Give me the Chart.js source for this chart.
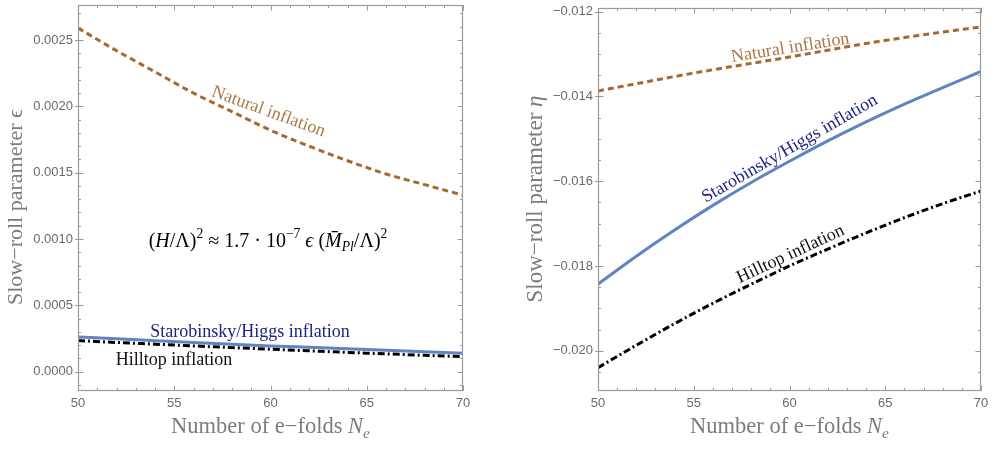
<!DOCTYPE html>
<html><head><meta charset="utf-8">
<script src="https://cdn.jsdelivr.net/npm/chart.js@4/dist/chart.umd.min.js"></script>
<style>
html,body{margin:0;padding:0;background:#fff;}
#wrap{position:relative;width:995px;height:460px;overflow:hidden;background:#fff;}
.c{position:absolute;top:0;height:460px;}
</style></head><body>
<div id="wrap">
<div class="c" style="left:0;width:497px"><canvas id="cl"></canvas></div>
<div class="c" style="left:497px;width:498px"><canvas id="cr"></canvas></div>
</div>
<script>
// ---- data ----
const efolds = [50, 52, 54, 56, 58, 60, 62, 64, 66, 68, 70];
const epsNatural = [0.00259, 0.00242, 0.00226, 0.00210, 0.00196, 0.00182, 0.00170, 0.00159, 0.00149, 0.00141, 0.00133];
const epsStarobinsky = [0.000262, 0.000247, 0.000233, 0.000219, 0.000206, 0.000194, 0.000183, 0.000172, 0.000161, 0.000150, 0.000139];
const epsHilltop = [0.000234, 0.000220, 0.000207, 0.000194, 0.000181, 0.000169, 0.000157, 0.000145, 0.000134, 0.000123, 0.000113];
const etaNatural = [-0.01387, -0.01370, -0.01353, -0.01337, -0.01322, -0.01307, -0.01291, -0.01275, -0.01261, -0.01248, -0.01236];
const etaStarobinsky = [-0.01843, -0.01777, -0.01715, -0.01657, -0.01603, -0.01553, -0.01505, -0.01460, -0.01418, -0.01379, -0.01341];
const etaHilltop = [-0.02040, -0.01987, -0.01936, -0.01888, -0.01843, -0.01800, -0.01760, -0.01722, -0.01686, -0.01653, -0.01623];

const xTicks = [50, 55, 60, 65, 70];
const xTickLabels = ["50", "55", "60", "65", "70"];
const epsTicks = [0, 0.0005, 0.0010, 0.0015, 0.0020, 0.0025];
const epsTickLabels = ["0.0000", "0.0005", "0.0010", "0.0015", "0.0020", "0.0025"];
const etaTicks = [-0.020, -0.018, -0.016, -0.014, -0.012];
const etaTickLabels = ["\u22120.020", "\u22120.018", "\u22120.016", "\u22120.014", "\u22120.012"];

// ---- styles ----
const C_NAT = '#a7692f', C_NAT_TXT = '#a8784a';
const C_STA = '#5f85c0', C_STA_TXT = '#1f2385';
const C_HIL = '#000000', C_HIL_TXT = '#111111';
const FRAME = '#9c9c9c', TICKTXT = '#6a6a6a', TITLE = '#7c7c7c';
const SERIF = '"Liberation Serif", "Times New Roman", serif';
const SANS = '"Liberation Sans", Arial, sans-serif';

function pts(ys){ return efolds.map((x,i)=>({x:x, y:ys[i]})); }

function ds(label, ys, color, dash, width){
  return {label, data: pts(ys), borderColor: color, borderWidth: width, borderDash: dash,
    borderCapStyle:'butt', pointRadius:0, fill:false, cubicInterpolationMode:'monotone'};
}

// rich text: segments {t, it, sup, sub}
function richWidth(ctx, segs, size){
  let w=0;
  for(const s of segs){
    const sz = (s.sup||s.sub) ? size*0.68 : size;
    ctx.font = (s.it?'italic ':'') + sz + 'px ' + SERIF;
    w += ctx.measureText(s.t).width;
  }
  return w;
}
function drawRich(ctx, segs, size, cx, cy, color, angle){
  ctx.save();
  ctx.translate(cx, cy);
  ctx.rotate(angle||0);
  ctx.fillStyle = color;
  ctx.textBaseline = 'alphabetic';
  ctx.textAlign = 'left';
  const w = richWidth(ctx, segs, size);
  let x = -w/2;
  const base = size*0.33;
  for(const s of segs){
    const sz = (s.sup||s.sub) ? size*0.68 : size;
    ctx.font = (s.it?'italic ':'') + sz + 'px ' + SERIF;
    let dy = 0;
    if(s.sup) dy = -size*0.42;
    if(s.sub) dy = size*0.22;
    ctx.fillText(s.t, x, base+dy);
    x += ctx.measureText(s.t).width;
  }
  ctx.restore();
}

const framePlugin = {
  id:'frameTicks',
  afterDatasetsDraw(chart, args, opts){
    const {ctx, chartArea:a, scales:{x, y}} = chart;
    ctx.save();
    ctx.strokeStyle = FRAME;
    ctx.lineWidth = 1;
    const drawX = (v, len) => {
      const px = Math.round(x.getPixelForValue(v))+0.5;
      ctx.beginPath();
      ctx.moveTo(px, a.bottom); ctx.lineTo(px, a.bottom-len);
      ctx.moveTo(px, a.top); ctx.lineTo(px, a.top+len);
      ctx.stroke();
    };
    const drawY = (v, len) => {
      const py = Math.round(y.getPixelForValue(v))+0.5;
      ctx.beginPath();
      ctx.moveTo(a.left, py); ctx.lineTo(a.left+len, py);
      ctx.moveTo(a.right, py); ctx.lineTo(a.right-len, py);
      ctx.stroke();
    };
    for(let v=x.min; v<=x.max+1e-9; v+=opts.xMinor) drawX(v, 3);
    for(const v of opts.xMajor) drawX(v, 5.5);
    const y0 = Math.ceil(y.min/opts.yMinor)*opts.yMinor;
    for(let k=0; y0+k*opts.yMinor<=y.max; k++) drawY(y0+k*opts.yMinor, 3);
    for(const v of opts.yMajor) drawY(v, 5.5);
    for(const v of opts.yMajor){
      const py = Math.round(y.getPixelForValue(v))+0.5;
      ctx.beginPath(); ctx.moveTo(a.left-3, py); ctx.lineTo(a.left, py); ctx.stroke();
    }
    ctx.lineWidth = 1.2;
    ctx.strokeRect(a.left+0.5, a.top+0.5, a.right-a.left-1, a.bottom-a.top-1);
    ctx.restore();
  },
  afterDraw(chart, args, opts){
    const {ctx, chartArea:a, scales:{x, y}} = chart;
    for(const an of opts.notes){
      drawRich(ctx, an.segs, an.size, x.getPixelForValue(an.x), y.getPixelForValue(an.y), an.color, an.angle*Math.PI/180);
    }
    const xt = [{t:'Number of e\u2212folds '},{t:'N',it:true},{t:'e',it:true,sub:true}];
    drawRich(ctx, xt, 22.5, (a.left+a.right)/2, 426, TITLE, 0);
    drawRich(ctx, opts.yTitle, opts.yTitleSize, opts.yTitleX, opts.yTitleY, TITLE, -Math.PI/2);
  }
};

function makeChart(id, cfg){
  return new Chart(document.getElementById(id), {
    type:'line',
    data:{datasets: cfg.datasets},
    options:{
      animation:false, responsive:true, maintainAspectRatio:false,
      layout:{padding:cfg.padding},
      plugins:{legend:{display:false}, tooltip:{enabled:false}, frameTicks: cfg.frame},
      scales:{
        x:{type:'linear', min:50, max:70, grid:{display:false, drawTicks:false}, border:{display:false},
          afterBuildTicks(s){ s.ticks = xTicks.map(v=>({value:v})); },
          afterFit(s){ s.height = cfg.xH; s.paddingLeft=0; s.paddingRight=0; },
          ticks:{autoSkip:false, maxRotation:0, padding:5, color:TICKTXT, font:{family:SANS, size:13},
            callback:(v,i)=>xTickLabels[i]}},
        y:{type:'linear', min:cfg.yMin, max:cfg.yMax, grid:{display:false, drawTicks:false}, border:{display:false},
          afterBuildTicks(s){ s.ticks = cfg.yTicks.map(v=>({value:v})); },
          afterFit(s){ s.width = cfg.yW; s.paddingTop=0; s.paddingBottom=0; },
          ticks:{autoSkip:false, padding:5, color:TICKTXT, font:{family:SANS, size:13},
            callback:(v,i)=>cfg.yLabels[i]}}
      }
    },
    plugins:[framePlugin]
  });
}

const txt = (s)=>[{t:s}];

makeChart('cl', {
  datasets:[
    ds('Hilltop inflation', epsHilltop, C_HIL, [7,3,2,3], 3),
    ds('Starobinsky/Higgs inflation', epsStarobinsky, C_STA, [], 3),
    ds('Natural inflation', epsNatural, C_NAT, [6,4], 3)
  ],
  padding:{left:0, top:5, right:34, bottom:0},
  xH:69, yW:78, yMin:-0.000146, yMax:0.002764,
  yTicks:epsTicks, yLabels:epsTickLabels,
  frame:{xMajor:xTicks, xMinor:1, yMajor:epsTicks, yMinor:0.0001,
    yTitle:[{t:'Slow\u2212roll parameter '},{t:'\u03f5'}], yTitleX:15, yTitleY:207, yTitleSize:22,
    notes:[
      {segs:txt('Natural inflation'), size:18, x:59.92, y:0.001968, angle:20, color:C_NAT_TXT},
      {segs:txt('Starobinsky/Higgs inflation'), size:18, x:58.94, y:0.000307, angle:0, color:C_STA_TXT},
      {segs:txt('Hilltop inflation'), size:18, x:54.99, y:0.0000957, angle:0, color:C_HIL_TXT},
      {segs:[{t:'('},{t:'H',it:true},{t:'/\u039b)'},{t:'2',sup:true},{t:' \u2248 1.7 \u00b7 10'},{t:'\u22127',sup:true},{t:' '},{t:'\u03f5',it:true},{t:' ('},{t:'M\u0304',it:true},{t:'Pl',it:true,sub:true},{t:'/\u039b)'},{t:'2',sup:true}],
       size:20, x:59.87, y:0.000992, angle:0, color:'#000'}
    ]}
});

makeChart('cr', {
  datasets:[
    ds('Hilltop inflation', etaHilltop, C_HIL, [7,3,2,3], 3),
    ds('Starobinsky/Higgs inflation', etaStarobinsky, C_STA, [], 3),
    ds('Natural inflation', etaNatural, C_NAT, [6,4], 3)
  ],
  padding:{left:0, top:8, right:14, bottom:0},
  xH:69, yW:101, yMin:-0.02095, yMax:-0.011913,
  yTicks:etaTicks, yLabels:etaTickLabels,
  frame:{xMajor:xTicks, xMinor:1, yMajor:etaTicks, yMinor:0.0005,
    yTitle:[{t:'Slow\u2212roll parameter '},{t:'\u03b7',it:true}], yTitleX:37, yTitleY:199, yTitleSize:23,
    notes:[
      {segs:txt('Natural inflation'), size:18, x:60.03, y:-0.012827, angle:-9, color:C_NAT_TXT},
      {segs:txt('Starobinsky/Higgs inflation'), size:18, x:59.98, y:-0.015211, angle:-30, color:C_STA_TXT},
      {segs:txt('Hilltop inflation'), size:18, x:60.03, y:-0.0177, angle:-25, color:C_HIL_TXT}
    ]}
});
</script>
</body></html>
